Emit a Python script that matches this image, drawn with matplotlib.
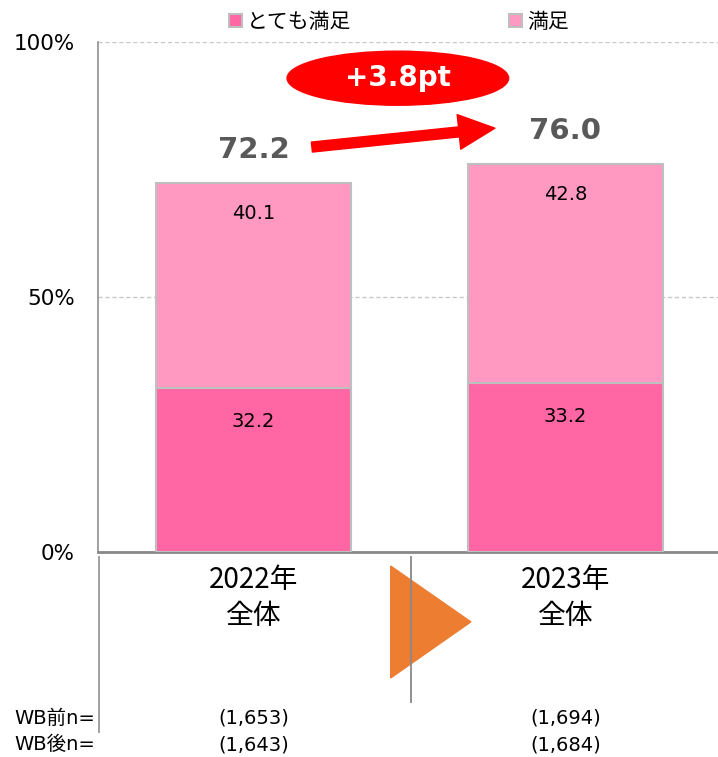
import matplotlib
matplotlib.use("Agg")
import matplotlib.pyplot as plt
import matplotlib.transforms as mtransforms
from matplotlib.patches import Ellipse, Polygon

plt.rcParams["font.family"] = ["DejaVu Sans", "Noto Sans CJK JP"]

# ─────────────────────────────────────────────
# データ
# ─────────────────────────────────────────────
categories = ["2022年\n全体", "2023年\n全体"]
very_satisfied = [32.2, 33.2]
satisfied = [40.1, 42.8]
totals = [72.2, 76.0]
n_before = ["(1,653)", "(1,694)"]
n_after = ["(1,643)", "(1,684)"]
diff_label = "+3.8pt"
series_names = ["とても満足", "満足"]

COLOR_DARK = "#FF66A3"
COLOR_LIGHT = "#FF99C2"
EDGE = "#BFBFBF"
CJK = ["Noto Sans CJK JP", "DejaVu Sans"]

fig = plt.figure(figsize=(7.18, 7.57), dpi=100)
ax = fig.add_axes([98 / 718, 1 - 552 / 757, 1 - 98 / 718, 510 / 757])

x = list(range(len(categories)))
w = 0.625
b1 = ax.bar(x, very_satisfied, w, color=COLOR_DARK, edgecolor=EDGE, linewidth=1.5,
            label=series_names[0], zorder=3)
b2 = ax.bar(x, satisfied, w, bottom=very_satisfied, color=COLOR_LIGHT, edgecolor=EDGE,
            linewidth=1.5, label=series_names[1], zorder=3)

ax.set_xlim(-0.498, 1.489)
ax.set_ylim(0, 100)
ax.set_yticks([0, 50, 100])
ax.set_yticklabels(["0%", "50%", "100%"], fontsize=15.5)
ax.tick_params(axis="y", length=0, pad=16.5)
ax.set_xticks([])
for s in ["top", "right"]:
    ax.spines[s].set_visible(False)
ax.spines["left"].set_color("#999999")
ax.spines["left"].set_linewidth(1.3)
ax.spines["bottom"].set_color("#888888")
ax.spines["bottom"].set_linewidth(2)
for yv in [50, 100]:
    ax.axhline(yv, color="#C8C8C8", linestyle=(0, (3, 2)), linewidth=1, zorder=1)

# セグメントのラベル
for i in x:
    ax.annotate(f"{very_satisfied[i]:.1f}", (i, very_satisfied[i]), xytext=(0, -24),
                textcoords="offset points", ha="center", va="center", fontsize=14, zorder=5)
    top = very_satisfied[i] + satisfied[i]
    ax.annotate(f"{satisfied[i]:.1f}", (i, top), xytext=(0, -22),
                textcoords="offset points", ha="center", va="center", fontsize=14, zorder=5)
    ax.annotate(f"{totals[i]:.1f}", (i, totals[i]), xytext=(0, 24),
                textcoords="offset points", ha="center", va="center", fontsize=21,
                fontweight="bold", color="#595959")

# 差分の楕円と矢印
ax.add_patch(Ellipse((0.463, 92.9), 0.71, 10.6, color="#FF0000", zorder=4, clip_on=False))
ax.text(0.463, 93.0, diff_label, ha="center", va="center", fontsize=20, fontweight="bold",
        color="white", zorder=5)
ax.annotate("", xy=(0.774, 83.1), xytext=(0.1875, 79.4),
            arrowprops=dict(arrowstyle="simple,head_length=1.3,head_width=1.25,tail_width=0.36",
                            mutation_scale=20, color="#FF0000", shrinkA=0, shrinkB=0),
            zorder=4)

# 下部の表部分
trans = mtransforms.blended_transform_factory(ax.transData, ax.transAxes)
ftrans = fig.transFigure
H = 757.0
for i in x:
    ax.text(i, -0.09, categories[i], transform=trans, ha="center", va="center",
            fontsize=20, linespacing=1.25, family=CJK)
    xf = ax.transData.transform((i, 0))[0] / 718
    fig.text(xf, 1 - 718 / H, n_before[i], ha="center", va="center", fontsize=14)
    fig.text(xf, 1 - 745 / H, n_after[i], ha="center", va="center", fontsize=14)
fig.text(95 / 718, 1 - 718 / H, "WB前n=", ha="right", va="center", fontsize=14)
fig.text(95 / 718, 1 - 745 / H, "WB後n=", ha="right", va="center", fontsize=14)

fig.add_artist(plt.Line2D([98.5 / 718, 98.5 / 718], [1 - 557 / H, 1 - 732 / H],
                          transform=ftrans, color="#999999", linewidth=1.3))
fig.add_artist(plt.Line2D([411 / 718, 411 / 718], [1 - 557 / H, 1 - 702 / H],
                          transform=ftrans, color="#888888", linewidth=1.3))

tri = Polygon([(0.44, -0.0275), (0.44, -0.247), (0.697, -0.137)], closed=True,
              transform=trans, color="#ED7D31", clip_on=False, zorder=5)
ax.add_patch(tri)

# 凡例
leg = fig.legend(handles=[b1, b2], loc="upper center", ncol=2, frameon=False,
                 bbox_to_anchor=(399 / 718, 1 + 8 / H), fontsize=15, handlelength=0.6,
                 handleheight=0.6, handletextpad=0.25, columnspacing=7.6,
                 prop={"family": CJK, "size": 15})

fig.savefig("out.png", dpi=100)
